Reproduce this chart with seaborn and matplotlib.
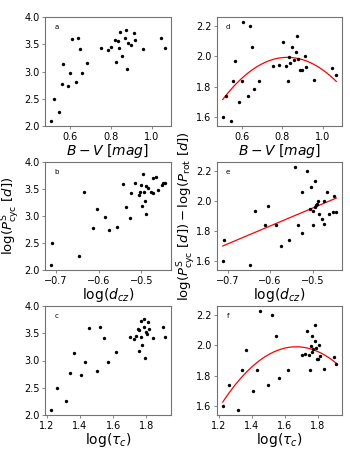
import numpy as np
import matplotlib
matplotlib.use("Agg")
import matplotlib.pyplot as plt
import seaborn as sns

# ---- data ----
bv = [0.507, 0.522, 0.548, 0.560, 0.569, 0.589, 0.600, 0.609, 0.632, 0.642,
      0.651, 0.661, 0.684, 0.753, 0.785, 0.802, 0.819, 0.827, 0.834, 0.840,
      0.848, 0.857, 0.868, 0.874, 0.880, 0.887, 0.898, 0.914, 0.918, 0.957,
      1.045, 1.067]
log_pcyc = [2.09, 2.50, 2.26, 2.77, 3.13, 2.74, 2.98, 3.59, 2.80, 3.62,
            3.42, 2.97, 3.16, 3.44, 3.39, 3.45, 3.57, 3.18, 3.56, 3.44,
            3.72, 3.28, 3.61, 3.77, 3.04, 3.52, 3.49, 3.70, 3.57, 3.42,
            3.62, 3.44]
log_ratio = [1.600, 1.740, 1.575, 1.840, 1.970, 1.700, 1.840, 2.226, 1.740, 2.200,
             2.060, 1.785, 1.840, 1.935, 1.944, 2.094, 1.935, 1.840, 1.997, 1.957,
             2.060, 1.975, 2.030, 2.134, 1.980, 1.913, 1.913, 2.000, 1.930, 1.847,
             1.926, 1.878]
log_dcz = [-0.712, -0.709, -0.647, -0.612, -0.604, -0.575, -0.586, -0.542, -0.556, -0.514,
           -0.525, -0.526, -0.535, -0.635, -0.505, -0.503, -0.500, -0.498, -0.488, -0.494,
           -0.466, -0.491, -0.450, -0.495, -0.489, -0.485, -0.462, -0.472, -0.452, -0.472,
           -0.444, -0.477]
log_tau = [1.224, 1.261, 1.318, 1.342, 1.365, 1.407, 1.430, 1.453, 1.501, 1.522,
           1.547, 1.568, 1.618, 1.703, 1.726, 1.738, 1.747, 1.753, 1.757, 1.764,
           1.768, 1.774, 1.783, 1.785, 1.789, 1.795, 1.803, 1.811, 1.815, 1.838,
           1.899, 1.913]

panel_letters = ["a", "b", "c", "d", "e", "f"]
xlabels = [r"$B-V\ [mag]$", r"$\log(d_{cz})$", r"$\log(\tau_c)$"]
ylabel_left = r"$\log(P^{\mathrm{S}}_{\mathrm{cyc}}\ [d])$"
ylabel_right = r"$\log(P^{\mathrm{S}}_{\mathrm{cyc}}\ [d]) - \log(P_{\mathrm{rot}}\ [d])$"
fit_degrees = [2, 1, 2]

plt.rcParams.update({
    "font.family": ["DejaVu Sans"],
    "mathtext.fontset": "dejavusans",
    "axes.edgecolor": "0.45",
    "axes.linewidth": 0.8,
    "xtick.color": "0.45",
    "ytick.color": "0.45",
    "xtick.labelcolor": "black",
    "ytick.labelcolor": "black",
    "xtick.major.size": 2.5,
    "ytick.major.size": 2.5,
    "xtick.major.width": 0.6,
    "ytick.major.width": 0.6,
    "xtick.labelsize": 7,
    "ytick.labelsize": 7,
})

W, H = 350, 450
fig = plt.figure(figsize=(W / 100, H / 100), dpi=100)

cols = [(45, 171), (217, 342)]
rows = [(17, 126), (162, 270), (306, 415)]
ylabel_x = [-0.19, -0.16]

xdata = [bv, log_dcz, log_tau]
ydata = [log_pcyc, log_ratio]

for c, (x0, x1) in enumerate(cols):
    for r, (y0, y1) in enumerate(rows):
        ax = fig.add_axes([x0 / W, 1 - y1 / H, (x1 - x0) / W, (y1 - y0) / H])
        xs = np.array(xdata[r])
        ys = np.array(ydata[c])
        sns.scatterplot(x=xs, y=ys, ax=ax, color="black", s=6, linewidth=0,
                        legend=False, zorder=3)
        if c == 1:
            coef = np.polyfit(xs, ys, fit_degrees[r])
            xx = np.linspace(xs.min(), xs.max(), 200)
            sns.lineplot(x=xx, y=np.polyval(coef, xx), ax=ax, color="red",
                         linewidth=0.9, zorder=2)
            ax.set_yticks([1.6, 1.8, 2.0, 2.2])
        else:
            ax.set_ylim(2.0, 4.0)
            ax.set_yticks([2.0, 2.5, 3.0, 3.5, 4.0])
        ax.set_xlabel(xlabels[r], fontsize=10, labelpad=0)
        if r == 1:
            ax.set_ylabel(ylabel_left if c == 0 else ylabel_right, fontsize=9.5)
            ax.yaxis.set_label_coords(ylabel_x[c], 0.5)
        ax.text(0.09, 0.91, panel_letters[c * 3 + r], transform=ax.transAxes,
                fontsize=5, ha="center", va="center")
        ax.tick_params(pad=1.5)

fig.savefig("out.png", dpi=100)
